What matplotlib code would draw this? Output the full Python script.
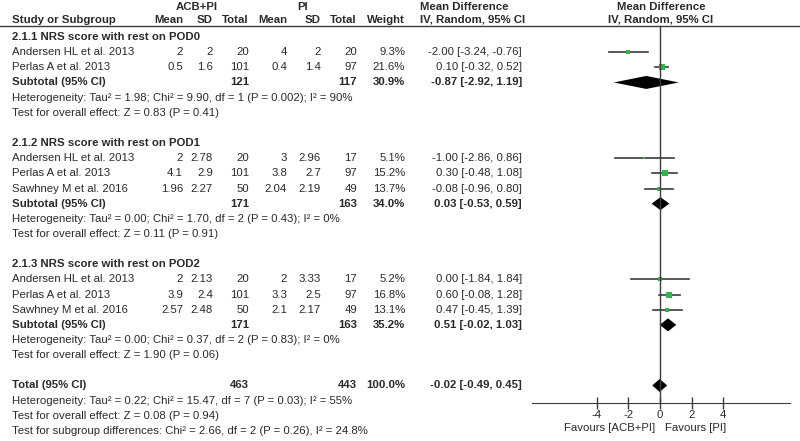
import matplotlib.pyplot as plt

plt.rcParams["font.family"] = ["Liberation Sans", "DejaVu Sans"]
plt.rcParams["axes.unicode_minus"] = False

# study level data
group_titles = ["2.1.1 NRS score with rest on POD0",
                "2.1.2 NRS score with rest on POD1",
                "2.1.3 NRS score with rest on POD2"]
study_group = [0, 0, 1, 1, 1, 2, 2, 2]
study_names = ["Andersen HL et al. 2013", "Perlas A et al. 2013",
               "Andersen HL et al. 2013", "Perlas A et al. 2013", "Sawhney M et al. 2016",
               "Andersen HL et al. 2013", "Perlas A et al. 2013", "Sawhney M et al. 2016"]
acb_mean = [2, 0.5, 2, 4.1, 1.96, 2, 3.9, 2.57]
acb_sd = [2, 1.6, 2.78, 2.9, 2.27, 2.13, 2.4, 2.48]
acb_n = [20, 101, 20, 101, 50, 20, 101, 50]
pi_mean = [4, 0.4, 3, 3.8, 2.04, 2, 3.3, 2.1]
pi_sd = [2, 1.4, 2.96, 2.7, 2.19, 3.33, 2.5, 2.17]
pi_n = [20, 97, 17, 97, 49, 17, 97, 49]
weight = [9.3, 21.6, 5.1, 15.2, 13.7, 5.2, 16.8, 13.1]
md = [-2.00, 0.10, -1.00, 0.30, -0.08, 0.00, 0.60, 0.47]
ci_lo = [-3.24, -0.32, -2.86, -0.48, -0.96, -1.84, -0.08, -0.45]
ci_hi = [-0.76, 0.52, 0.86, 1.08, 0.80, 1.84, 1.28, 1.39]

# subtotals
sub_acb_n = [121, 171, 171]
sub_pi_n = [117, 163, 163]
sub_weight = [30.9, 34.0, 35.2]
sub_md = [-0.87, 0.03, 0.51]
sub_lo = [-2.92, -0.53, -0.02]
sub_hi = [1.19, 0.59, 1.03]
sub_het = ["Heterogeneity: Tau² = 1.98; Chi² = 9.90, df = 1 (P = 0.002); I² = 90%",
           "Heterogeneity: Tau² = 0.00; Chi² = 1.70, df = 2 (P = 0.43); I² = 0%",
           "Heterogeneity: Tau² = 0.00; Chi² = 0.37, df = 2 (P = 0.83); I² = 0%"]
sub_z = ["Test for overall effect: Z = 0.83 (P = 0.41)",
         "Test for overall effect: Z = 0.11 (P = 0.91)",
         "Test for overall effect: Z = 1.90 (P = 0.06)"]

# overall
tot_acb_n = 463
tot_pi_n = 443
tot_weight = 100.0
tot_md, tot_lo, tot_hi = -0.02, -0.49, 0.45
tot_notes = ["Heterogeneity: Tau² = 0.22; Chi² = 15.47, df = 7 (P = 0.03); I² = 55%",
             "Test for overall effect: Z = 0.08 (P = 0.94)",
             "Test for subgroup differences: Chi² = 2.66, df = 2 (P = 0.26), I² = 24.8%"]

ticks = [-4, -2, 0, 2, 4]

TXT = "#2a2a2a"
GREEN = "#2fb54c"
LINE = "#3c3c3c"
FS = 8.2

fig = plt.figure(figsize=(8, 4.41), dpi=100)
ax = fig.add_axes([0, 0, 1, 1])
ax.set_xlim(0, 800)
ax.set_ylim(441, 0)
ax.axis("off")

# forest panel, zero at x=660 px, 15.8 px per unit
fx0, fx1, zero_px, ppu = 532, 790, 660, 15.8
fa = fig.add_axes([fx0 / 800, 0, (fx1 - fx0) / 800, 1])
fa.set_xlim((fx0 - zero_px) / ppu, (fx1 - zero_px) / ppu)
fa.set_ylim(441, 0)
fa.patch.set_alpha(0)


def row_y(k):
    return 37 + 15.15 * k


def txt(x, y, s, ha="left", bold=False):
    ax.text(x, y, s, ha=ha, va="center", fontsize=FS, color=TXT,
            fontweight="bold" if bold else "normal")


cols = [183, 213, 249, 287, 321, 357, 405]

# header
txt(197, 7, "ACB+PI", ha="center", bold=True)
txt(303, 7, "PI", ha="center", bold=True)
txt(420, 7, "Mean Difference", bold=True)
txt(661, 7, "Mean Difference", ha="center", bold=True)
txt(12, 20, "Study or Subgroup", bold=True)
for x, h in zip(cols, ["Mean", "SD", "Total", "Mean", "SD", "Total", "Weight"]):
    txt(x, 20, h, ha="right", bold=True)
txt(420, 20, "IV, Random, 95% CI", bold=True)
txt(661, 20, "IV, Random, 95% CI", ha="center", bold=True)
ax.plot([0, 800], [25.5, 25.5], color=LINE, lw=1)


def ci_text(m, lo, hi):
    return f"{m:.2f} [{lo:.2f}, {hi:.2f}]"


def diamond(m, lo, hi, y, half=6.5):
    fa.fill([lo, m, hi, m], [y, y - half, y, y + half], color="black", lw=0)


k = 0
for g, title in enumerate(group_titles):
    txt(12, row_y(k), title, bold=True)
    k += 1
    for i in [j for j, sg in enumerate(study_group) if sg == g]:
        y = row_y(k)
        txt(12, y, study_names[i])
        vals = [f"{acb_mean[i]:g}", f"{acb_sd[i]:g}", f"{acb_n[i]}",
                f"{pi_mean[i]:g}", f"{pi_sd[i]:g}", f"{pi_n[i]}", f"{weight[i]:.1f}%"]
        for x, v in zip(cols, vals):
            txt(x, y, v, ha="right")
        txt(522, y, ci_text(md[i], ci_lo[i], ci_hi[i]), ha="right")
        fa.plot([ci_lo[i], ci_hi[i]], [y, y], color=LINE, lw=1.2)
        fa.plot(md[i], y, marker="s", ls="none", color=GREEN,
                markersize=0.95 * weight[i] ** 0.5, mew=0)
        k += 1
    y = row_y(k)
    txt(12, y, "Subtotal (95% CI)", bold=True)
    txt(cols[2], y, f"{sub_acb_n[g]}", ha="right", bold=True)
    txt(cols[5], y, f"{sub_pi_n[g]}", ha="right", bold=True)
    txt(cols[6], y, f"{sub_weight[g]:.1f}%", ha="right", bold=True)
    txt(522, y, ci_text(sub_md[g], sub_lo[g], sub_hi[g]), ha="right", bold=True)
    diamond(sub_md[g], sub_lo[g], sub_hi[g], y)
    k += 1
    txt(12, row_y(k), sub_het[g])
    k += 1
    txt(12, row_y(k), sub_z[g])
    k += 2

# overall
y = row_y(k)
txt(12, y, "Total (95% CI)", bold=True)
txt(cols[2], y, f"{tot_acb_n}", ha="right", bold=True)
txt(cols[5], y, f"{tot_pi_n}", ha="right", bold=True)
txt(cols[6], y, f"{tot_weight:.1f}%", ha="right", bold=True)
txt(522, y, ci_text(tot_md, tot_lo, tot_hi), ha="right", bold=True)
diamond(tot_md, tot_lo, tot_hi, y)
for note in tot_notes:
    k += 1
    txt(12, row_y(k), note)

# zero line and axis
axis_y = 403
fa.plot([0, 0], [25.5, axis_y], color=LINE, lw=1)
for s in ["top", "left", "right"]:
    fa.spines[s].set_visible(False)
fa.spines["bottom"].set_position(("data", axis_y))
fa.spines["bottom"].set_color(LINE)
fa.set_yticks([])
fa.set_xticks(ticks)
fa.set_xticklabels([str(t) for t in ticks])
fa.tick_params(axis="x", direction="inout", length=8, width=1, color=LINE,
               labelsize=FS, labelcolor=TXT, pad=1)
fa.text(-0.3, 428, "Favours [ACB+PI]", ha="right", va="center", fontsize=FS, color=TXT)
fa.text(0.3, 428, "Favours [PI]", ha="left", va="center", fontsize=FS, color=TXT)

plt.savefig("out.png", dpi=100)
